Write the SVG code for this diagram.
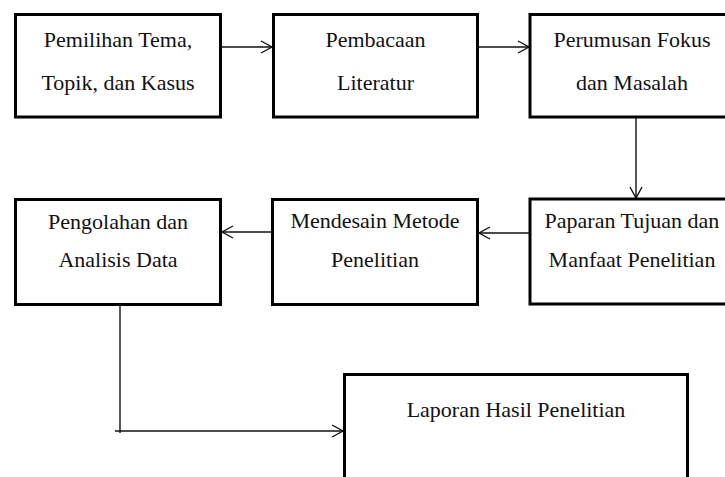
<svg xmlns="http://www.w3.org/2000/svg" width="725" height="477" viewBox="0 0 725 477">
<style>
.box{fill:#fff;stroke:#000;stroke-width:3}
.lbl{font-family:'Liberation Serif',serif;font-size:22px;fill:#111;text-anchor:middle}
.c{fill:none;stroke:#111;stroke-width:1.4}
</style>
<defs>
<marker id="ar" markerUnits="userSpaceOnUse" markerWidth="14" markerHeight="14" refX="12" refY="7" orient="auto">
<path d="M1,1 L12,7 L1,13" fill="none" stroke="#111" stroke-width="1.4"/>
</marker>
</defs>
<rect width="725" height="477" fill="#fff"/>
<g id="connectors">
<line class="c" x1="222" y1="47" x2="272" y2="47" marker-end="url(#ar)"/>
<line class="c" x1="479" y1="47" x2="529" y2="47" marker-end="url(#ar)"/>
<line class="c" x1="636" y1="118" x2="636" y2="198" marker-end="url(#ar)"/>
<line class="c" x1="529" y1="233" x2="479" y2="233" marker-end="url(#ar)"/>
<line class="c" x1="271" y1="232" x2="222" y2="232" marker-end="url(#ar)"/>
<line class="c" x1="120" y1="306" x2="120" y2="433"/>
<line class="c" x1="115" y1="431" x2="343" y2="431" marker-end="url(#ar)"/>
</g>
<g id="n1">
<rect class="box" x="15.5" y="14.5" width="205" height="102.5"/>
<text class="lbl" x="118" y="47">Pemilihan Tema,</text>
<text class="lbl" x="118" y="90">Topik, dan Kasus</text>
</g>
<g id="n2">
<rect class="box" x="273.5" y="14.5" width="204" height="102.5"/>
<text class="lbl" x="375.5" y="47">Pembacaan</text>
<text class="lbl" x="375.5" y="90">Literatur</text>
</g>
<g id="n3">
<rect class="box" x="530" y="14.5" width="220" height="102.5"/>
<text class="lbl" x="632" y="47">Perumusan Fokus</text>
<text class="lbl" x="632" y="90">dan Masalah</text>
</g>
<g id="n4">
<rect class="box" x="15.5" y="199.5" width="205" height="105"/>
<text class="lbl" x="118" y="229">Pengolahan dan</text>
<text class="lbl" x="118" y="267">Analisis Data</text>
</g>
<g id="n5">
<rect class="box" x="272.5" y="199.5" width="205" height="105"/>
<text class="lbl" x="375" y="228">Mendesain Metode</text>
<text class="lbl" x="375" y="267">Penelitian</text>
</g>
<g id="n6">
<rect class="box" x="530" y="199" width="220" height="105"/>
<text class="lbl" x="632" y="228">Paparan Tujuan dan</text>
<text class="lbl" x="632" y="267">Manfaat Penelitian</text>
</g>
<g id="n7">
<rect class="box" x="344.5" y="374.5" width="343" height="120"/>
<text class="lbl" x="516" y="417">Laporan Hasil Penelitian</text>
</g>
</svg>
